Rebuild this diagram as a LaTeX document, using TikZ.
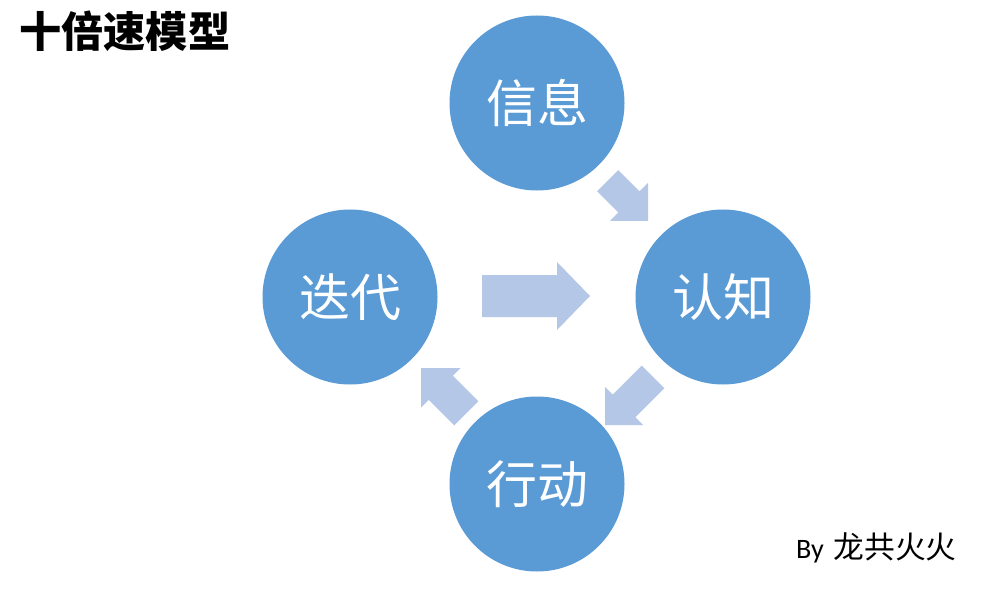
\documentclass[tikz,border=0pt]{standalone}
\usepackage{fontspec}
\setmainfont{Carlito}
\newfontfamily\cjk{Noto Sans CJK SC}
\definecolor{circblue}{RGB}{91,155,213}
\definecolor{arrblue}{RGB}{180,199,231}
\newcommand\blockarr[6]{%
  \fill[blockarrow,shift={(#1)},rotate=#2] (0,0) -- (-#6,-#5) -- (-#6,-#4) -- (-#3,-#4) -- (-#3,#4) -- (-#6,#4) -- (-#6,#5) -- cycle;}
\begin{document}
\begin{tikzpicture}[x=0.2mm,y=-0.2mm,
  stage/.style={circle,fill=circblue,minimum size=35mm,inner sep=0pt,text=white,font=\cjk\fontsize{29}{35}\selectfont},
  blockarrow/.style={fill=arrblue}]
\useasboundingbox[fill=white] (0,0) rectangle (1000,600);
\node[stage] (info) at (537,103) {信息};
\node[stage] (cog) at (723,297) {认知};
\node[stage] (iter) at (350,297) {迭代};
\node[stage] (act) at (537,484) {行动};
\blockarr{648,221}{-45}{57}{15}{27}{27}
\blockarr{590,296}{0}{108}{21}{34}{33}
\blockarr{605,425}{-135}{68}{16}{27}{27}
\blockarr{421,368}{135}{64}{17}{28}{28}
\node[font=\cjk\bfseries\fontsize{24}{29}\selectfont,anchor=west,inner sep=0pt] (title) at (19,31) {十倍速模型};
\node[anchor=east,inner sep=0pt] (by) at (957,548) {\fontsize{16}{19}\selectfont By\hspace{2pt} {\cjk\fontsize{17.5}{21}\selectfont 龙共火火}};
\end{tikzpicture}
\end{document}
